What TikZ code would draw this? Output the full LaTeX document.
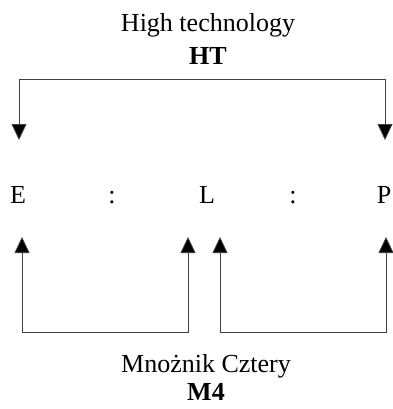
\documentclass[tikz,border=0pt]{standalone}
\usepackage{fontspec}
\setmainfont{Liberation Serif}
\usetikzlibrary{arrows.meta}
\begin{document}
\begin{tikzpicture}[x=1pt,y=-1pt,
  lbl/.style={font=\fontsize{26}{30}\selectfont, anchor=base, inner sep=0pt},
  conn/.style={line width=0.8pt, draw=black!75, -{Triangle[width=15pt,length=16pt,fill=black]}}]
\useasboundingbox (0,0) rectangle (392,409);
\node[lbl] (ht1) at (208,32) {High technology};
\node[lbl] (ht2) at (208,65) {\textbf{HT}};
\node[lbl] (E) at (18,203) {E};
\node[lbl] (c1) at (112,203) {:};
\node[lbl] (L) at (207,203) {L};
\node[lbl] (c2) at (293,203) {:};
\node[lbl] (P) at (384,203) {P};
\node[lbl] (m1) at (206,372) {Mno\.znik Cztery};
\node[lbl] (m2) at (206,400) {\textbf{M4}};
% top connector
\coordinate (ta) at (19,140);
\coordinate (tb) at (385,140);
\coordinate (tm) at (200,79);
\draw[conn] (tm) -| (ta);
\draw[conn] (tm) -| (tb);
% bottom connectors
\coordinate (b1) at (22,237);
\coordinate (b2) at (188,237);
\coordinate (b3) at (220,237);
\coordinate (b4) at (386,237);
\coordinate (bl) at (105,332);
\coordinate (br) at (303,332);
\draw[conn] (bl) -| (b1);
\draw[conn] (bl) -| (b2);
\draw[conn] (br) -| (b3);
\draw[conn] (br) -| (b4);
\end{tikzpicture}
\end{document}
